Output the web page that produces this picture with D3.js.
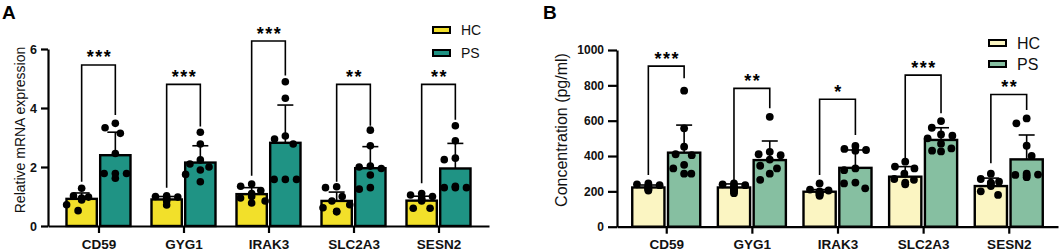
<!DOCTYPE html>
<html><head><meta charset="utf-8">
<script src="https://cdn.jsdelivr.net/npm/d3@7"></script>
<style>
html,body{margin:0;padding:0;background:#fff;}
svg{display:block;font-family:"Liberation Sans",Arial,Helvetica,sans-serif;}
</style></head>
<body>
<svg id="chart" width="1059" height="251"></svg>
<script>
// ---------- data ----------
const genes = ["CD59","GYG1","IRAK3","SLC2A3","SESN2"];
const groups = ["HC","PS"];
const mrnaTicks = [0,2,4,6];
const concTicks = [0,200,400,600,800,1000];

// Panel A: relative mRNA expression
const mrnaHCMean = [0.92,0.90,1.08,0.85,0.86];
const mrnaHCSD   = [0.20,0.10,0.22,0.30,0.15];
const mrnaPSMean = [2.40,2.15,2.82,1.96,1.95];
const mrnaPSSD   = [0.78,0.57,1.28,0.73,0.85];
const mrnaHCPoints = [
  [1.28,1.02,0.98,0.95,0.92,0.88,0.72,0.52],
  [1.02,1.00,0.98,0.95,0.92,0.90,0.85,0.71],
  [1.42,1.35,1.20,1.10,1.00,0.95,0.85,0.78],
  [1.33,1.30,1.00,0.85,0.72,0.62,0.50,0.48],
  [1.10,1.05,1.00,0.95,0.90,0.85,0.60,0.60]
];
const mrnaPSPoints = [
  [3.48,3.33,3.14,2.46,1.78,1.78,1.78,1.62],
  [3.18,2.78,2.24,2.10,2.00,1.90,1.75,1.50],
  [4.89,4.33,3.05,2.95,2.78,1.58,1.58,1.58],
  [3.25,2.72,2.03,2.00,1.95,1.73,1.30,1.25],
  [3.40,2.89,2.30,2.25,1.35,1.30,1.30,1.30]
];
const mrnaSig = ["***","***","***","**","**"];
const mrnaBracketTop = [5.46,4.80,6.27,4.80,4.80];
const mrnaBracketHCEnd = [1.50,1.30,1.70,1.50,1.45];
const mrnaBracketPSEnd = [3.76,3.37,5.10,3.40,3.60];

// Panel B: concentration (pg/ml)
const concHCMean = [222,222,198,283,230];
const concHCSD   = [14,20,12,57,45];
const concPSMean = [419,377,333,491,381];
const concPSSD   = [156,108,101,69,138];
const concHCPoints = [
  [245,240,235,230,225,220,215,210,205],
  [245,240,235,230,220,215,205,200,190],
  [245,210,205,200,195,190,185,180,175],
  [368,340,330,300,270,265,250,240],
  [300,270,255,250,245,230,200,180]
];
const concPSPoints = [
  [770,557,453,410,405,350,330,300,300],
  [622,424,410,405,380,345,330,300,265],
  [457,440,434,430,330,320,250,245,217],
  [598,560,522,515,500,470,443,430,426],
  [613,585,458,400,300,295,293,290,280]
];
const concSig = ["***","**","*","***","**"];
const concBracketTop = [909,783,721,858,748];
const concBracketHCEnd = [293,257,293,387,359];
const concBracketPSEnd = [840,670,519,642,660];

// ---------- drawing ----------
const svg = d3.select("#chart");

function beeswarm(vals, y, cx, r, halfW) {
  const placed = [];
  const sorted = vals.map((v,i)=>({v,i})).sort((a,b)=>b.v-a.v);
  const out = [];
  for (const p of sorted) {
    const py = y(p.v);
    const cands = [0];
    const blockers = [];
    for (const q of placed) {
      const dy = Math.abs(q.y - py);
      if (dy < 2*r) {
        const dx = Math.sqrt(4*r*r - dy*dy);
        blockers.push([q.x - dx, q.x + dx]);
        cands.push(q.x - dx - cx, q.x + dx - cx);
      }
    }
    cands.sort((a,b)=>Math.abs(a)-Math.abs(b) || a-b);
    let chosen = null;
    for (const c of cands) {
      const xx = cx + c;
      if (Math.abs(c) > halfW + 0.01) continue;
      if (blockers.every(b => xx <= b[0]+0.01 || xx >= b[1]-0.01)) { chosen = xx; break; }
    }
    if (chosen === null) chosen = cx;
    placed.push({x: chosen, y: py});
    out.push({x: chosen, y: py, v: p.v});
  }
  return out;
}

function drawPanel(cfg) {
  const g = svg.append("g");
  const x = d3.scalePoint().domain(genes).range([cfg.x0, cfg.x1]).padding(cfg.pad);
  const y = d3.scaleLinear().domain([0, cfg.max]).range([cfg.yBottom, cfg.yTop]);
  const sub = d3.scaleBand().domain(groups).range([-cfg.half, cfg.half]).paddingInner(0.1);
  const bw = sub.bandwidth();

  const series = {
    HC: {mean: cfg.hcMean, sd: cfg.hcSD, pts: cfg.hcPts, color: cfg.hcColor},
    PS: {mean: cfg.psMean, sd: cfg.psSD, pts: cfg.psPts, color: cfg.psColor}
  };

  // bars
  groups.forEach(grp => {
    const s = series[grp];
    g.selectAll(null).data(genes).enter().append("rect")
      .attr("x", d => x(d) + sub(grp))
      .attr("y", (d,i) => y(s.mean[i]))
      .attr("width", bw)
      .attr("height", (d,i) => y(0) - y(s.mean[i]))
      .attr("fill", s.color)
      .attr("stroke", "#000")
      .attr("stroke-width", 2.4);
  });

  // error bars (upper)
  groups.forEach(grp => {
    const s = series[grp];
    genes.forEach((d,i) => {
      const cx = x(d) + sub(grp) + bw/2;
      const y1 = y(s.mean[i]), y2 = y(s.mean[i] + s.sd[i]);
      g.append("line").attr("x1",cx).attr("x2",cx).attr("y1",y1).attr("y2",y2)
        .attr("stroke","#000").attr("stroke-width",1.6);
      g.append("line").attr("x1",cx-8).attr("x2",cx+8).attr("y1",y2).attr("y2",y2)
        .attr("stroke","#000").attr("stroke-width",1.6);
    });
  });

  // points
  groups.forEach(grp => {
    const s = series[grp];
    genes.forEach((d,i) => {
      const cx = x(d) + sub(grp) + bw/2;
      const pts = beeswarm(s.pts[i], y, cx, cfg.r + 1.8, bw/2);
      g.selectAll(null).data(pts).enter().append("circle")
        .attr("cx", p => p.x).attr("cy", p => p.y).attr("r", cfg.r)
        .attr("fill", "#000");
    });
  });

  // significance brackets
  genes.forEach((d,i) => {
    const xl = x(d) + sub("HC") + bw/2;
    const xr = x(d) + sub("PS") + bw/2;
    const yt = y(cfg.brTop[i]);
    g.append("path")
      .attr("d", `M${xl},${y(cfg.brHC[i])}V${yt}H${xr}V${y(cfg.brPS[i])}`)
      .attr("fill","none").attr("stroke","#000").attr("stroke-width",1.6);
    g.append("text").attr("x",(xl+xr)/2 + 1).attr("y", yt + cfg.starDy)
      .attr("text-anchor","middle")
      .style("font-size", cfg.starSize + "px").style("font-weight","bold")
      .attr("letter-spacing", cfg.starLs)
      .attr("fill","#000")
      .text(cfg.sig[i]);
  });

  // y axis
  const ya = g.append("g").attr("transform",`translate(${cfg.x0},0)`)
    .call(d3.axisLeft(y).tickValues(cfg.ticks).tickFormat(d3.format("d"))
      .tickSize(cfg.tickLen).tickSizeOuter(0).tickPadding(cfg.tickPad));
  ya.select(".domain").attr("stroke","#000").attr("stroke-width",2.2);
  ya.selectAll(".tick line").attr("stroke","#000").attr("stroke-width",2.2);
  ya.selectAll(".tick text").style("font-size",cfg.tickFont + "px").style("font-weight","bold")
    .attr("fill","#111").style("font-family","Liberation Sans, Arial, sans-serif");

  // x axis
  const xa = g.append("g").attr("transform",`translate(0,${cfg.yBottom})`)
    .call(d3.axisBottom(x).tickSize(7).tickSizeOuter(0).tickPadding(6));
  xa.select(".domain").attr("stroke","#000").attr("stroke-width",2.2);
  xa.selectAll(".tick line").attr("stroke","#000").attr("stroke-width",2.2);
  xa.selectAll(".tick text").style("font-size","13.5px").style("font-weight","bold")
    .attr("fill","#111").style("font-family","Liberation Sans, Arial, sans-serif");

  // y title
  g.append("text")
    .attr("transform",`translate(${cfg.titleX},${cfg.titleY}) rotate(-90)`)
    .attr("text-anchor","middle").style("font-size",cfg.titleSize + "px").attr("fill","#111")
    .text(cfg.title);

  // panel letter
  g.append("text").attr("x",cfg.letterX).attr("y",18.5)
    .style("font-size","19px").style("font-weight","bold").attr("fill","#000").text(cfg.letter);

  // legend
  groups.forEach((grp,k) => {
    const ly = cfg.legY + k*cfg.legGap;
    g.append("rect").attr("x",cfg.legX).attr("y",ly-3).attr("width",17).attr("height",6)
      .attr("fill",series[grp].color).attr("stroke","#000").attr("stroke-width",2);
    g.append("text").attr("x",cfg.legX+28).attr("y",ly + cfg.legFont*0.36)
      .style("font-size",cfg.legFont + "px").attr("fill","#111").text(grp);
  });
}

drawPanel({
  letter:"A", letterX:2,
  x0:48, x1:489, pad:0.594, yBottom:226, yTop:49, max:6, half:32, r:3.8,
  ticks:mrnaTicks, tickLen:7, tickPad:4, tickFont:12.5,
  hcMean:mrnaHCMean, hcSD:mrnaHCSD, psMean:mrnaPSMean, psSD:mrnaPSSD,
  hcPts:mrnaHCPoints, psPts:mrnaPSPoints,
  hcColor:"#f2e02a", psColor:"#1f9384",
  sig:mrnaSig, brTop:mrnaBracketTop, brHC:mrnaBracketHCEnd, brPS:mrnaBracketPSEnd,
  starDy:-1.5, starSize:18, starLs:1.5,
  title:"Relative mRNA expression", titleX:25, titleY:130, titleSize:14,
  legX:433, legY:30, legGap:23, legFont:14
});

drawPanel({
  letter:"B", letterX:543,
  x0:617, x1:1058, pad:0.575, yBottom:226.7, yTop:50, max:1000, half:34, r:3.9,
  ticks:concTicks, tickLen:9, tickPad:4, tickFont:12,
  hcMean:concHCMean, hcSD:concHCSD, psMean:concPSMean, psSD:concPSSD,
  hcPts:concHCPoints, psPts:concPSPoints,
  hcColor:"#fbf5c2", psColor:"#86bfa1",
  sig:concSig, brTop:concBracketTop, brHC:concBracketHCEnd, brPS:concBracketPSEnd,
  starDy:-1.5, starSize:18, starLs:1.5,
  title:"Concentration (pg/ml)", titleX:567, titleY:130, titleSize:16,
  legX:989, legY:43, legGap:21, legFont:16
});
</script>
</body></html>
